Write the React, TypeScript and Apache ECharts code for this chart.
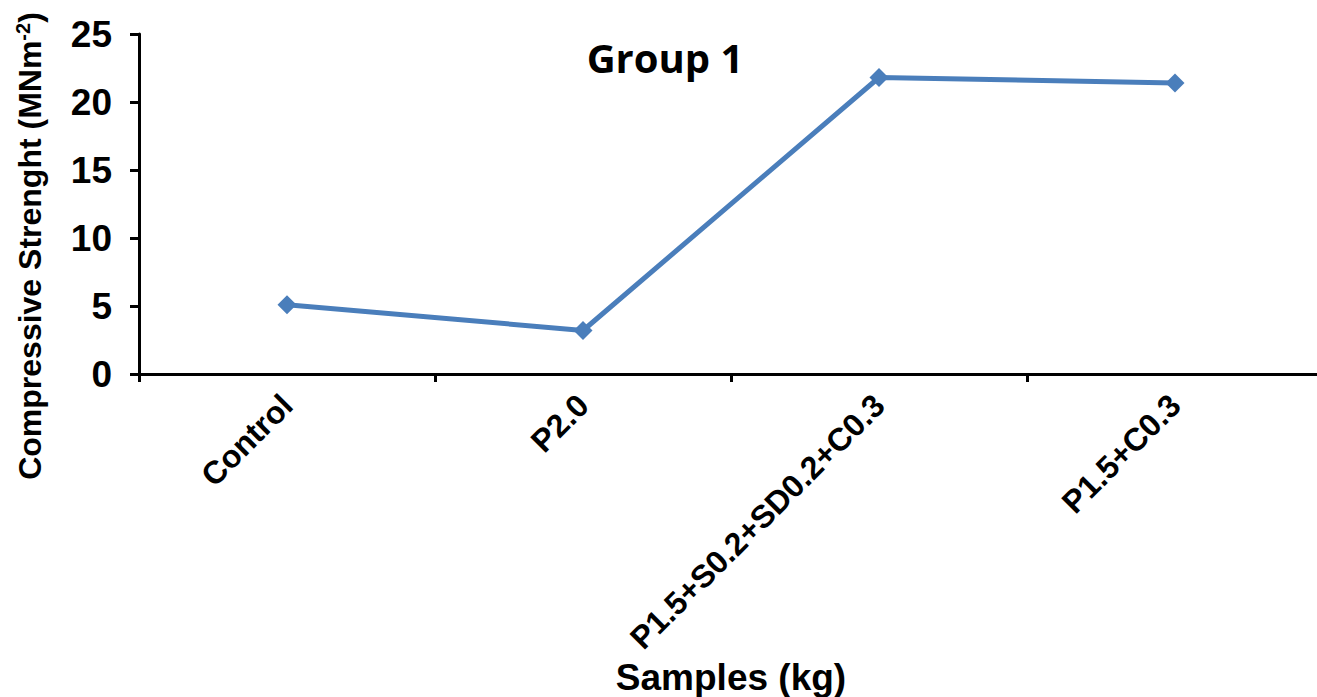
import React, { useEffect, useRef } from "react";
import * as echarts from "echarts";

const categories = ["Control", "P2.0", "P1.5+S0.2+SD0.2+C0.3", "P1.5+C0.3"];
const strength = [5.1, 3.2, 21.8, 21.4];
const yTicks = { min: 0, max: 25, interval: 5 };

const FONT = '"Liberation Sans", Arial, sans-serif';

export default function App() {
  const ref = useRef<HTMLDivElement>(null);

  useEffect(() => {
    if (!ref.current) return;
    const chart = echarts.init(ref.current, null, { renderer: "svg" });
    chart.setOption({
      animation: false,
      backgroundColor: "#ffffff",
      title: {
        text: "Group 1",
        left: 660,
        top: 32,
        textAlign: "center",
        textStyle: {
          fontFamily: '"Open Sans", sans-serif',
          fontWeight: "bold",
          fontSize: 40,
          color: "#000",
        },
      },
      grid: {
        left: 139,
        top: 34,
        width: 1184,
        height: 340,
        outerBoundsMode: "none",
        containLabel: false,
      },
      xAxis: {
        type: "category",
        data: categories,
        boundaryGap: true,
        name: "Samples (kg)",
        nameLocation: "middle",
        nameGap: 285,
        nameTextStyle: {
          fontFamily: FONT,
          fontWeight: "bold",
          fontSize: 37,
          color: "#000",
        },
        axisLine: { lineStyle: { color: "#000", width: 3 } },
        axisTick: { show: true, length: 8, lineStyle: { color: "#000", width: 3 } },
        axisLabel: {
          rotate: 45,
          margin: 26,
          interval: 0,
          fontFamily: FONT,
          fontWeight: "bold",
          fontSize: 32,
          color: "#000",
        },
        splitLine: { show: false },
      },
      yAxis: {
        type: "value",
        min: yTicks.min,
        max: yTicks.max,
        interval: yTicks.interval,
        axisLine: { show: true, lineStyle: { color: "#000", width: 3 } },
        axisTick: { show: true, length: 9, lineStyle: { color: "#000", width: 3 } },
        axisLabel: {
          margin: 27,
          fontFamily: FONT,
          fontWeight: "bold",
          fontSize: 37,
          color: "#000",
        },
        splitLine: { show: false },
      },
      graphic: [
        {
          type: "text",
          x: 30,
          y: 246,
          rotation: Math.PI / 2,
          style: {
            text: "Compressive Strenght (MNm{sup|-2})",
            rich: {
              sup: {
                fontFamily: FONT,
                fontWeight: "bold",
                fontSize: 20,
                verticalAlign: "top",
                padding: [0, 0, 14, 0],
              },
            },
            fontFamily: FONT,
            fontWeight: "bold",
            fontSize: 32,
            fill: "#000",
            align: "center",
            verticalAlign: "middle",
          },
        },
      ],
      series: [
        {
          type: "line",
          data: strength,
          symbol: "diamond",
          symbolSize: 19,
          itemStyle: { color: "#4a7ebb" },
          lineStyle: { color: "#4a7ebb", width: 5 },
        },
      ],
    });
    return () => chart.dispose();
  }, []);

  return (
    <div
      ref={ref}
      style={{ position: "fixed", left: 0, top: 0, width: 1317, height: 697 }}
    />
  );
}
